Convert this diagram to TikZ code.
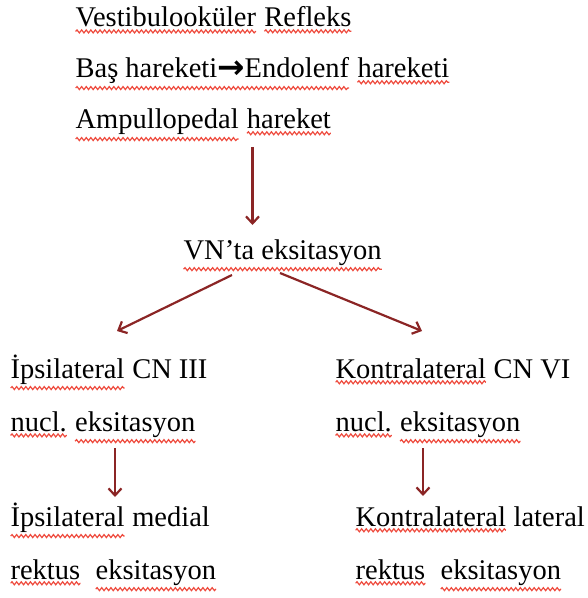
\documentclass[tikz,border=0pt]{standalone}
\usepackage{fontspec}
\setmainfont{Liberation Serif}
\newfontfamily\arrowfont{DejaVu Sans}
\usetikzlibrary{arrows.meta,decorations.pathmorphing}
\definecolor{arrred}{HTML}{8B2525}
\definecolor{wavered}{HTML}{EE4B3E}
\tikzset{
  txt/.style={anchor=base west,inner sep=0pt,outer sep=0pt,font=\fontsize{28.5bp}{34bp}\selectfont},
  wvword/.style={anchor=base,inner sep=0pt,outer sep=0pt},
  wavy/.style={draw=wavered,line width=1.2bp,decorate,decoration={snake,segment length=4.6bp,amplitude=1.5bp}},
  arr/.style={draw=arrred,line width=2.2bp,-{Straight Barb[length=7bp,width=13bp,line width=2.2bp]}},
}
\newcommand\wv[1]{\tikz[baseline=(wvw.base)]{\node[wvword](wvw){#1};\path[wavy]([yshift=-4bp]wvw.south west)--([yshift=-4bp]wvw.south east);}}
\begin{document}
\begin{tikzpicture}[x=1bp,y=-1bp]
\useasboundingbox (0,0) rectangle (588,598);
\node[txt] (l1) at (75,27) {\wv{Vestibulooküler} \wv{Refleks}};
\node[txt] (l2) at (75,78) {\wv{Baş hareketi{\arrowfont\bfseries\raisebox{-0.8bp}{\scalebox{1.15}{→}}}Endolenf} \wv{hareketi}};
\node[txt] (l3) at (75,129) {\wv{Ampullopedal} \wv{hareket}};
\node[txt] (vn) at (183,259) {\wv{VN’ta eksitasyon}};
\node[txt] (ip1) at (10,378) {\wv{İpsilateral} CN III};
\node[txt] (ip2) at (10,431) {\wv{nucl.} \wv{eksitasyon}};
\node[txt] (ko1) at (335,378) {\wv{Kontralateral} CN VI};
\node[txt] (ko2) at (335,431) {\wv{nucl.} \wv{eksitasyon}};
\node[txt] (ip3) at (10,526) {\wv{İpsilateral} medial};
\node[txt] (ip4) at (10,579) {\wv{rektus}\ \ \wv{eksitasyon}};
\node[txt] (ko3) at (355,526) {\wv{Kontralateral} lateral};
\node[txt] (ko4) at (355,579) {\wv{rektus}\ \ \wv{eksitasyon}};
\coordinate (a0s) at (252.5,147); \coordinate (a0e) at (252.5,225);
\coordinate (a1s) at (232,275);   \coordinate (a1e) at (117,331);
\coordinate (a2s) at (280,273);   \coordinate (a2e) at (422,331);
\coordinate (a3s) at (115,448);   \coordinate (a3e) at (115,497);
\coordinate (a4s) at (423,448);   \coordinate (a4e) at (423,496);
\draw[arr] (a0s) -- (a0e);
\draw[arr] (a1s) -- (a1e);
\draw[arr] (a2s) -- (a2e);
\draw[arr] (a3s) -- (a3e);
\draw[arr] (a4s) -- (a4e);
\end{tikzpicture}
\end{document}
